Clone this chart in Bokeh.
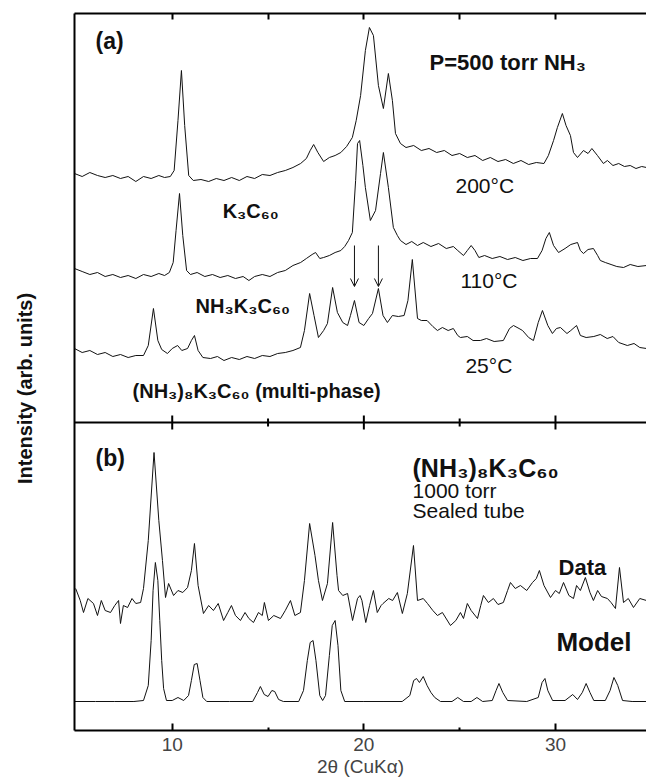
import math
from bokeh.plotting import figure
from bokeh.layouts import row
from bokeh.models import (Range1d, LinearAxis, FixedTicker, Label, Span, Arrow,
                          OpenHead, ColumnDataSource)
from bokeh.embed import file_html
from bokeh.resources import INLINE

# ---------------- data (2theta in degrees, intensity in arb. units incl. offset) ----
t200_x = [4.9, 5.3, 5.7, 6.1, 6.5, 6.9, 7.3, 7.7, 8.1, 8.5, 8.9, 9.3, 9.6, 9.9, 10.1, 10.3,
          10.48, 10.65, 10.86, 11.1, 11.5, 11.9, 12.3, 12.7, 13.1, 13.5, 13.9, 14.3, 14.7,
          15.1, 15.5, 15.9, 16.3, 16.7, 17.0, 17.2, 17.38, 17.6, 17.9, 18.2, 18.5, 18.8,
          19.1, 19.4, 19.6, 19.83, 20.08, 20.29, 20.5, 20.76, 21.02, 21.28, 21.49, 21.65,
          21.91, 22.2, 22.6, 23.0, 23.4, 23.8, 24.2, 24.6, 25.0, 25.4, 25.8, 26.2, 26.6,
          27.0, 27.4, 27.8, 28.2, 28.6, 29.0, 29.4, 29.63, 29.9, 30.1, 30.36, 30.55, 30.78,
          30.94, 31.15, 31.46, 31.7, 31.9, 32.19, 32.5, 32.71, 33.0, 33.3, 33.6, 33.9, 34.2,
          34.5, 34.75]
t200_y = [557, 554, 558, 555, 553, 555, 552, 554, 549, 554, 552, 555, 553, 554, 560, 610,
          660, 605, 555, 550, 551, 549, 552, 550, 553, 550, 554, 552, 556, 555, 558, 560,
          563, 567, 572, 580, 586, 578, 569, 573, 575, 578, 584, 593, 610, 635, 680, 703,
          695, 645, 622, 657, 630, 597, 587, 583, 585, 580, 582, 578, 580, 575, 577, 573,
          575, 570, 573, 569, 571, 567, 570, 566, 568, 567, 575, 590, 603, 617, 605, 595,
          578, 573, 580, 577, 582, 575, 567, 570, 565, 567, 564, 565, 562, 564, 563]

t110_x = [4.9, 5.3, 5.7, 6.1, 6.5, 6.9, 7.3, 7.7, 8.1, 8.5, 8.9, 9.3, 9.6, 9.85, 10.05,
          10.2, 10.38, 10.55, 10.75, 10.95, 11.3, 11.7, 12.1, 12.5, 12.9, 13.3, 13.7, 14.0,
          14.3, 14.7, 15.1, 15.5, 15.9, 16.3, 16.7, 17.0, 17.3, 17.48, 17.7, 17.9, 18.2,
          18.5, 18.8, 19.0, 19.2, 19.4, 19.57, 19.67, 19.78, 19.95, 20.08, 20.34, 20.61,
          20.87, 21.02, 21.28, 21.54, 21.75, 21.91, 22.2, 22.5, 22.8, 23.1, 23.5, 23.9,
          24.3, 24.67, 24.9, 25.2, 25.4, 25.6, 25.8, 26.0, 26.3, 26.7, 27.1, 27.5, 27.9,
          28.3, 28.7, 29.06, 29.3, 29.5, 29.68, 29.9, 30.16, 30.5, 30.8, 31.15, 31.3,
          31.46, 31.7, 31.98, 32.2, 32.34, 32.6, 32.9, 33.2, 33.55, 33.9, 34.3, 34.75]
t110_y = [462, 459, 456, 458, 454, 456, 453, 455, 452, 456, 454, 457, 455, 458, 468, 500,
          537, 495, 460, 456, 458, 454, 456, 453, 455, 452, 454, 450, 454, 456, 454, 458,
          460, 465, 468, 472, 476, 478, 472, 473, 475, 478, 480, 484, 490, 498, 550, 587,
          590, 565, 543, 510, 520, 557, 578, 543, 503, 495, 490, 486, 489, 485, 488, 484,
          487, 482, 484, 480, 475, 480, 485, 480, 473, 475, 472, 474, 471, 473, 470, 472,
          472, 480, 492, 498, 485, 478, 482, 486, 488, 480, 477, 481, 482, 475, 470, 468,
          466, 464, 463, 466, 464, 465]

t25_x = [4.9, 5.3, 5.7, 6.1, 6.5, 6.9, 7.3, 7.7, 8.1, 8.5, 8.75, 9.02, 9.25, 9.45, 9.75,
         10.0, 10.28, 10.5, 10.8, 11.0, 11.16, 11.35, 11.6, 12.0, 12.36, 12.7, 13.1, 13.5,
         13.9, 14.3, 14.7, 15.1, 15.5, 15.9, 16.3, 16.69, 16.9, 17.17, 17.4, 17.63, 17.9,
         18.1, 18.37, 18.62, 18.9, 19.15, 19.3, 19.51, 19.75, 20.0, 20.25, 20.45, 20.76,
         21.0, 21.23, 21.49, 21.8, 22.1, 22.3, 22.53, 22.8, 23.0, 23.3, 23.6, 23.84, 24.1,
         24.4, 24.67, 24.9, 25.04, 25.4, 25.7, 26.08, 26.4, 26.8, 27.28, 27.6, 27.81, 28.1,
         28.28, 28.6, 28.85, 29.1, 29.32, 29.6, 29.84, 30.05, 30.26, 30.6, 30.8, 31.1,
         31.3, 31.6, 32.0, 32.34, 32.7, 33.0, 33.3, 33.75, 34.1, 34.4, 34.75]
t25_y = [382, 378, 380, 376, 378, 374, 376, 373, 375, 375, 385, 422, 390, 381, 377, 382,
         385, 380, 382, 390, 395, 380, 373, 372, 374, 370, 373, 371, 374, 372, 375, 374,
         377, 378, 380, 383, 400, 437, 415, 393, 400, 407, 443, 418, 408, 405, 415, 430,
         408, 405, 412, 417, 442, 415, 408, 415, 414, 415, 430, 471, 412, 410, 410, 404,
         400, 403, 400, 402, 395, 393, 394, 390, 390, 392, 389, 390, 402, 405, 402, 400,
         393, 390, 408, 420, 405, 397, 402, 403, 397, 400, 405, 395, 393, 394, 396, 392,
         394, 388, 385, 387, 383, 382]

data_x = [4.96, 5.2, 5.37, 5.6, 5.89, 6.1, 6.3, 6.5, 6.78, 7.0, 7.2, 7.3, 7.45, 7.67, 7.9,
          8.1, 8.35, 8.5, 8.75, 9.05, 9.3, 9.49, 9.65, 9.81, 10.07, 10.3, 10.55, 10.8, 11.0,
          11.16, 11.35, 11.63, 11.9, 12.15, 12.4, 12.68, 12.9, 13.09, 13.3, 13.56, 13.8,
          14.0, 14.24, 14.5, 14.7, 14.81, 15.02, 15.3, 15.65, 15.9, 16.17, 16.4, 16.69,
          16.9, 17.17, 17.45, 17.63, 17.84, 18.1, 18.37, 18.6, 18.68, 18.9, 19.15, 19.41,
          19.67, 19.8, 19.9, 20.1, 20.3, 20.5, 20.7, 20.9, 21.0, 21.3, 21.5, 21.75, 22.01,
          22.27, 22.59, 22.8, 23.1, 23.32, 23.6, 23.84, 24.1, 24.52, 24.8, 25.04, 25.2,
          25.4, 25.6, 25.93, 26.1, 26.24, 26.5, 26.76, 27.0, 27.28, 27.5, 27.65, 27.9,
          28.17, 28.5, 28.8, 29.0, 29.16, 29.4, 29.74, 30.0, 30.2, 30.42, 30.7, 30.94,
          31.1, 31.3, 31.56, 31.8, 31.98, 32.2, 32.4, 32.71, 32.9, 33.13, 33.34, 33.55,
          33.8, 34.07, 34.4, 34.75]
data_y = [142, 130, 118, 132, 127, 115, 130, 120, 118, 125, 130, 107, 125, 123, 132, 127,
          128, 142, 190, 278, 210, 170, 133, 147, 135, 140, 138, 143, 160, 187, 145, 117,
          125, 120, 127, 110, 118, 125, 115, 110, 118, 112, 108, 118, 115, 128, 110, 115,
          112, 120, 130, 115, 118, 150, 207, 175, 150, 130, 147, 208, 155, 140, 135, 137,
          110, 132, 135, 130, 108, 125, 140, 118, 125, 127, 132, 130, 138, 117, 137, 185,
          130, 132, 127, 120, 115, 118, 105, 110, 118, 112, 127, 120, 112, 125, 135, 128,
          132, 126, 128, 140, 148, 142, 145, 140, 148, 152, 160, 145, 133, 140, 137, 148,
          135, 132, 145, 140, 153, 138, 130, 140, 134, 132, 128, 122, 163, 128, 132, 123,
          132, 130]

model_x = [4.9, 6.0, 7.0, 8.0, 8.5, 8.75, 8.9, 9.0, 9.12, 9.25, 9.35, 9.45, 9.55, 9.7,
           10.0, 10.3, 10.6, 10.85, 11.0, 11.15, 11.3, 11.45, 11.6, 11.8, 13.0, 14.2, 14.45,
           14.6, 14.8, 15.0, 15.2, 15.35, 15.55, 15.8, 16.6, 16.85, 17.05, 17.2, 17.35,
           17.5, 17.7, 17.85, 18.0, 18.2, 18.35, 18.5, 18.65, 18.8, 19.0, 20.0, 21.0, 22.0,
           22.4, 22.6, 22.75, 22.9, 23.1, 23.3, 23.5, 23.7, 24.0, 24.6, 24.9, 25.2, 25.6,
           25.9, 26.2, 26.7, 26.9, 27.05, 27.25, 27.5, 28.5, 29.1, 29.3, 29.45, 29.6, 29.85,
           30.5, 30.9, 31.15, 31.4, 31.6, 31.8, 32.0, 32.6, 32.85, 33.05, 33.25, 33.5, 34.0,
           34.75]
model_y = [29, 29, 29, 29, 30, 45, 90, 140, 168, 150, 110, 70, 42, 30, 30, 33, 30, 35, 50,
           66, 67, 50, 33, 29, 29, 29, 38, 44, 36, 34, 40, 39, 31, 29, 29, 40, 70, 88, 90,
           70, 35, 30, 35, 75, 105, 110, 85, 40, 29, 29, 29, 29, 35, 50, 52, 48, 54, 45, 38,
           33, 29, 29, 33, 29, 29, 33, 29, 30, 40, 47, 38, 30, 29, 33, 48, 52, 40, 30, 30,
           36, 31, 38, 47, 38, 30, 30, 40, 53, 45, 30, 29, 29]

major_ticks = [10, 20, 30]
minor_ticks = [15, 25]
tick_labels = {10: "10", 20: "20", 30: "30"}
arrow_x = [19.51, 20.76]

# ---------------- main figure ----------------
X0, X1 = 4.9, 34.75
Y0, Y1 = 0, 717
SEP = 308          # boundary between panel (a) and panel (b)
LAB_W = 62
FONT = "Liberation Sans"
LC = "#111111"

p = figure(width=646 - LAB_W, height=784, x_range=Range1d(X0, X1),
           y_range=Range1d(Y0, Y1), output_backend="svg", toolbar_location=None,
           x_axis_location=None, y_axis_location=None,
           min_border_left=74 - LAB_W, min_border_right=0, min_border_top=13,
           min_border_bottom=54)
p.outline_line_color = None
for g in p.grid:
    g.visible = False

ticker = FixedTicker(ticks=major_ticks, minor_ticks=minor_ticks)
xb = LinearAxis(ticker=ticker, major_tick_in=7, major_tick_out=0, minor_tick_in=3,
                minor_tick_out=0, axis_line_width=2, major_tick_line_width=2,
                minor_tick_line_width=2, major_label_text_font=FONT,
                major_label_text_font_size="19px", major_label_standoff=7,
                major_label_overrides=tick_labels,
                axis_label="2\u03b8 (CuK\u03b1)", axis_label_text_font=FONT,
                axis_label_text_font_size="19px", axis_label_text_font_style="normal",
                axis_label_standoff=2)
p.add_layout(xb, "below")

# top frame line: ticks only, no labels
xt = LinearAxis(ticker=FixedTicker(ticks=[], minor_ticks=major_ticks + minor_ticks),
                major_tick_in=0, major_tick_out=0, minor_tick_in=6, minor_tick_out=0,
                axis_line_width=2, minor_tick_line_width=2)
p.add_layout(xt, "above")

yl = LinearAxis(ticker=FixedTicker(ticks=[]), axis_line_width=2, major_tick_in=0,
                major_tick_out=0, minor_tick_in=0, minor_tick_out=0)
p.add_layout(yl, "left")

# panel separator with ticks on both sides
p.add_layout(Span(location=SEP, dimension="width", line_color="black", line_width=2))
p.segment(x0=major_ticks, x1=major_ticks, y0=[SEP - 7] * len(major_ticks),
          y1=[SEP + 7] * len(major_ticks), line_color="black", line_width=2)
p.segment(x0=minor_ticks, x1=minor_ticks, y0=[SEP - 4] * len(minor_ticks),
          y1=[SEP + 4] * len(minor_ticks), line_color="black", line_width=2)

for xs, ys in [(t200_x, t200_y), (t110_x, t110_y), (t25_x, t25_y),
               (data_x, data_y), (model_x, model_y)]:
    p.line(xs, ys, line_color=LC, line_width=1)

# arrows marking NH3K3C60 peaks
asrc = ColumnDataSource(dict(x0=arrow_x, x1=arrow_x, y0=[485] * len(arrow_x),
                             y1=[444] * len(arrow_x)))
p.add_layout(Arrow(end=OpenHead(size=8, line_width=1, line_color=LC), source=asrc,
                   x_start="x0", y_start="y0", x_end="x1", y_end="y1",
                   line_width=1, line_color=LC))

# ---------------- texts ----------------
texts = [
    ("(a)", 6.0, 690, "23px", "bold"),
    ("P=500 torr NH\u2083", 23.43, 668, "22px", "bold"),
    ("200\u00b0C", 24.78, 545, "21px", "normal"),
    ("K\u2083C\u2086\u2080", 12.63, 520, "20px", "bold"),
    ("110\u00b0C", 25.04, 450, "21px", "normal"),
    ("NH\u2083K\u2083C\u2086\u2080", 11.22, 425, "20px", "bold"),
    ("25\u00b0C", 25.3, 365, "21px", "normal"),
    ("(NH\u2083)\u2088K\u2083C\u2086\u2080 (multi-phase)", 7.93, 340, "20px", "bold"),
    ("(b)", 6.0, 273, "23px", "bold"),
    ("(NH\u2083)\u2088K\u2083C\u2086\u2080", 22.54, 263, "25px", "bold"),
    ("1000 torr", 22.54, 240, "21px", "normal"),
    (" Sealed tube", 22.54, 220, "21px", "normal"),
    ("Data", 30.16, 163, "22px", "bold"),
    ("Model", 30.05, 89, "26px", "bold"),
]
for t, x, y, fs, fw in texts:
    p.add_layout(Label(x=x, y=y, text=t, text_font=FONT, text_font_size=fs,
                       text_font_style=fw, text_align="left", text_baseline="middle",
                       text_color=LC))

# ---------------- y-axis title strip ----------------
lab = figure(width=LAB_W, height=784, x_range=Range1d(0, LAB_W), y_range=Range1d(0, 784),
             output_backend="svg", toolbar_location=None, x_axis_location=None,
             y_axis_location=None, min_border=0)
lab.outline_line_color = None
for g in lab.grid:
    g.visible = False
lab.add_layout(Label(x=24, y=374, text="Intensity (arb. units)", angle=math.pi / 2,
                     text_font=FONT, text_font_size="20px", text_font_style="bold",
                     text_align="center", text_baseline="middle", text_color=LC))

layout = row(lab, p, spacing=0)
open("out.html", "w").write(file_html(layout, INLINE))
